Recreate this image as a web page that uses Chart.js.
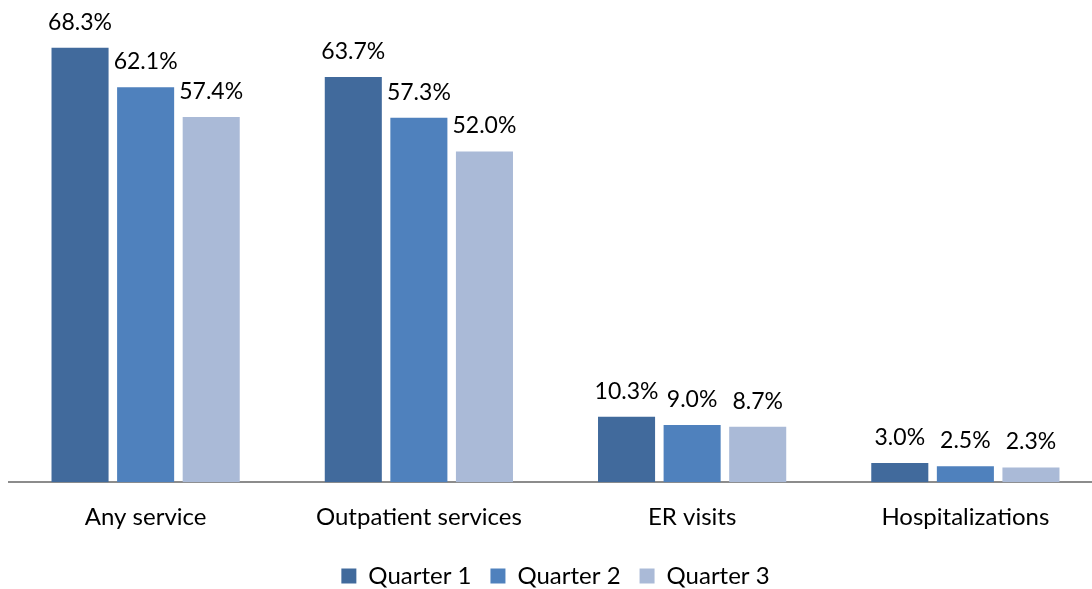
<!DOCTYPE html>
<html>
<head>
<meta charset="utf-8">
<script src="https://cdn.jsdelivr.net/npm/chart.js@4.4.1/dist/chart.umd.min.js"></script>
<style>
  html, body { margin: 0; padding: 0; background: #fff; overflow: hidden; }
</style>
</head>
<body>
<canvas id="usageChart" width="1102" height="598"></canvas>
<script>
const categories = ["Any service", "Outpatient services", "ER visits", "Hospitalizations"];
const seriesNames = ["Quarter 1", "Quarter 2", "Quarter 3"];
const quarter1 = [68.3, 63.7, 10.3, 3.0];
const quarter2 = [62.1, 57.3, 9.0, 2.5];
const quarter3 = [57.4, 52.0, 8.7, 2.3];
const seriesColors = ["#416a9c", "#4f81bd", "#aabad7"];

const FONT = "Lato, 'Open Sans', sans-serif";

// percent labels drawn above each bar
const barLabels = {
    id: "barLabels",
    afterDatasetsDraw(chart) {
        const ctx = chart.ctx;
        ctx.save();
        ctx.font = "23px " + FONT;
        ctx.fillStyle = "#000";
        ctx.textAlign = "center";
        ctx.textBaseline = "bottom";
        chart.data.datasets.forEach((ds, i) => {
            chart.getDatasetMeta(i).data.forEach((bar, j) => {
                ctx.fillText(ds.data[j].toFixed(1) + "%", bar.x, bar.y - 14);
            });
        });
        ctx.restore();
    }
};

const ctx = document.getElementById("usageChart").getContext("2d");
new Chart(ctx, {
    type: "bar",
    data: {
        labels: categories,
        datasets: [quarter1, quarter2, quarter3].map((data, i) => ({
            label: seriesNames[i],
            data,
            backgroundColor: seriesColors[i],
            borderWidth: 0,
            categoryPercentage: 0.72,
            barPercentage: 0.87
        }))
    },
    options: {
        responsive: false,
        animation: false,
        layout: { padding: { left: 9, right: 0, top: 0, bottom: 0 } },
        scales: {
            x: {
                grid: { display: false },
                border: { display: true, color: "#8c8c8c", width: 2 },
                ticks: { color: "#000", font: { family: FONT, size: 24 }, padding: 13, maxRotation: 0 }
            },
            y: {
                display: false,
                min: 0,
                max: 75.8
            }
        },
        plugins: {
            legend: {
                position: "bottom",
                labels: {
                    color: "#000",
                    font: { family: FONT, size: 24 },
                    boxWidth: 15,
                    boxHeight: 15,
                    padding: 19
                }
            },
            tooltip: { enabled: false }
        }
    },
    plugins: [barLabels]
});
</script>
</body>
</html>
